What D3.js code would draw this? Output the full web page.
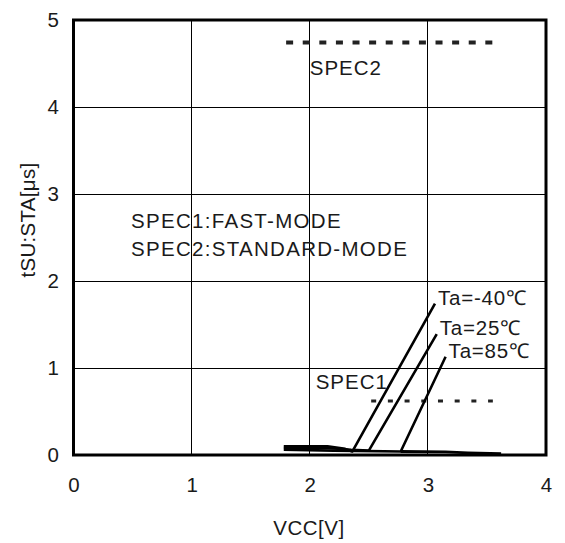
<!DOCTYPE html>
<html><head><meta charset="utf-8">
<script src="https://cdn.jsdelivr.net/npm/d3@7"></script>
<style>
html,body{margin:0;padding:0;background:#fff;}
text{font-family:"Liberation Sans",Arial,sans-serif;fill:#1a1a1a;}
</style></head>
<body>
<svg id="c" width="565" height="543"></svg>
<script>
// ---- data ----
const xTicks = [0, 1, 2, 3, 4];
const yTicks = [0, 1, 2, 3, 4, 5];
const xTitle = "VCC[V]";
const yTitle = "tSU:STA[μs]";

// Ta=-40℃
const vccM40 = [1.78, 2.15, 2.30, 2.36, 3.06];
const tM40   = [0.10, 0.10, 0.07, 0.04, 1.74];
// Ta=25℃
const vcc25  = [1.78, 2.15, 2.35, 2.50, 3.075];
const t25    = [0.08, 0.08, 0.06, 0.05, 1.39];
// Ta=85℃
const vcc85  = [1.78, 2.20, 2.77, 3.15];
const t85    = [0.06, 0.05, 0.04, 1.13];
// low tail at high VCC
const vccTail = [2.77, 3.15, 3.34, 3.62];
const tTail   = [0.04, 0.035, 0.025, 0.015];

const seriesNames = ["Ta=-40℃", "Ta=25℃", "Ta=85℃"];

// spec limits
const spec1Vcc = [2.52, 3.55];
const spec1Val = 0.62;
const spec2Vcc = [1.80, 3.55];
const spec2Val = 4.74;
const legendLines = ["SPEC1:FAST-MODE", "SPEC2:STANDARD-MODE"];

// ---- drawing ----
const svg = d3.select("#c");
const x = d3.scaleLinear().domain([0, 4]).range([73.5, 546]);
const y = d3.scaleLinear().domain([0, 5]).range([455, 20]);
const FS = 20.5;

// grid
const g = svg.append("g").attr("shape-rendering", "crispEdges");
g.selectAll("line.vx").data(xTicks.slice(1, -1)).join("line")
  .attr("x1", d => x(d)).attr("x2", d => x(d))
  .attr("y1", y(5)).attr("y2", y(0))
  .attr("stroke", "#000").attr("stroke-width", 1);
g.selectAll("line.hy").data(yTicks.slice(1, -1)).join("line")
  .attr("x1", x(0)).attr("x2", x(4))
  .attr("y1", d => y(d)).attr("y2", d => y(d))
  .attr("stroke", "#000").attr("stroke-width", 1);

// axes (labels only)
const ax = svg.append("g").attr("transform", `translate(0,${y(0)})`)
  .call(d3.axisBottom(x).tickValues(xTicks).tickFormat(d3.format("d")).tickSize(0).tickPadding(22));
const ay = svg.append("g").attr("transform", `translate(${x(0)},0)`)
  .call(d3.axisLeft(y).tickValues(yTicks).tickFormat(d3.format("d")).tickSize(0).tickPadding(14.5));
[ax, ay].forEach(a => {
  a.select(".domain").remove();
  a.selectAll("text").attr("font-size", FS).attr("font-family", "Liberation Sans, Arial, sans-serif").attr("fill", "#1a1a1a");
});

// spec lines
svg.append("line")
  .attr("x1", x(spec2Vcc[0])).attr("x2", x(spec2Vcc[1]))
  .attr("y1", y(spec2Val)).attr("y2", y(spec2Val))
  .attr("stroke", "#222").attr("stroke-width", 4).attr("stroke-dasharray", "7,9.6");
svg.append("line")
  .attr("x1", x(spec1Vcc[0])).attr("x2", x(spec1Vcc[1]))
  .attr("y1", y(spec1Val)).attr("y2", y(spec1Val))
  .attr("stroke", "#222").attr("stroke-width", 3).attr("stroke-dasharray", "5,11.7");

// curves
const line = d3.line().x(d => x(d[0])).y(d => y(d[1]));
const curves = [
  [vccM40, tM40, 2.6],
  [vcc25, t25, 2.6],
  [vcc85, t85, 2.6],
  [vccTail, tTail, 2.8]
];
curves.forEach(([vx, vy, w]) => {
  svg.append("path").datum(vx.map((v, i) => [v, vy[i]]))
    .attr("d", line).attr("fill", "none").attr("stroke", "#000")
    .attr("stroke-width", w).attr("stroke-linejoin", "round");
});

// border
svg.append("rect").attr("x", x(0)).attr("y", y(5))
  .attr("width", x(4) - x(0)).attr("height", y(0) - y(5))
  .attr("fill", "none").attr("stroke", "#000").attr("stroke-width", 3);

// series labels near the ends
const ends = [[vccM40, tM40], [vcc25, t25], [vcc85, t85]];
ends.forEach(([vx, vy], i) => {
  const n = vx.length - 1;
  svg.append("text").attr("x", x(vx[n]) + 3).attr("y", y(vy[n]) + 1)
    .attr("font-size", FS).attr("letter-spacing", 0.8).text(seriesNames[i]);
});

// spec labels
svg.append("text").attr("x", x(2.0)).attr("y", 75).attr("font-size", FS).attr("letter-spacing", 1).text("SPEC2");
svg.append("text").attr("x", x(2.05)).attr("y", 389).attr("font-size", FS).attr("letter-spacing", 1).text("SPEC1");
legendLines.forEach((t, i) => {
  svg.append("text").attr("x", 131).attr("y", 228 + i * 27.5)
    .attr("font-size", FS).attr("letter-spacing", 1.3).text(t);
});

// titles
svg.append("text").attr("x", 309).attr("y", 535).attr("text-anchor", "middle")
  .attr("font-size", FS).attr("letter-spacing", 0.5).text(xTitle);
svg.append("text").attr("transform", "translate(35,220) rotate(-90)")
  .attr("text-anchor", "middle").attr("font-size", FS).attr("letter-spacing", 0.3).text(yTitle);
</script>
</body></html>
